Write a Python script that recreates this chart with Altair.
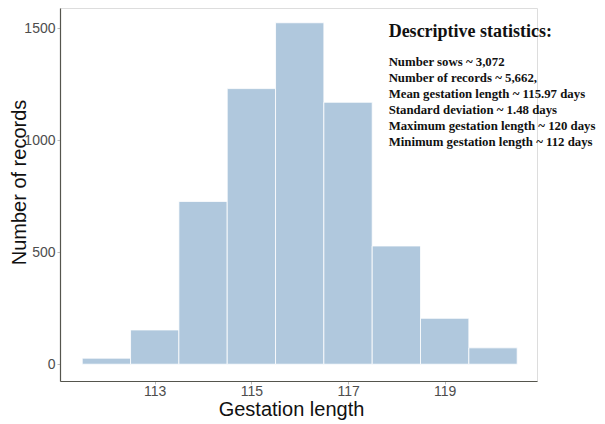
import altair as alt
import pandas as pd

# Histogram data (bin centers, counts)
centers = [112, 113, 114, 115, 116, 117, 118, 119, 120]
counts = [27, 153, 727, 1231, 1525, 1170, 528, 205, 73]

x_ticks = [113, 115, 117, 119]
y_ticks = [0, 500, 1000, 1500]

stats_title = "Descriptive statistics:"
stats_lines = [
    "Number sows ~ 3,072",
    "Number of records ~ 5,662,",
    "Mean gestation length ~ 115.97 days",
    "Standard deviation ~ 1.48 days",
    "Maximum gestation length ~ 120 days",
    "Minimum gestation length ~ 112 days",
]

df = pd.DataFrame({"center": centers, "count": counts})
df["start"] = df["center"] - 0.5
df["end"] = df["center"] + 0.5

xscale = alt.Scale(domain=[111.04, 120.91], nice=False, zero=False)
yscale = alt.Scale(domain=[-75, 1591], nice=False, zero=False)

bars = alt.Chart(df).mark_bar(
    color="#b0c8dd", stroke="white", strokeWidth=0.8
).encode(
    x=alt.X("start:Q", scale=xscale,
            axis=alt.Axis(values=x_ticks, title="Gestation length", grid=False, format="d",
                          labelFontSize=14, labelColor="#4d4d4d", labelFont="Liberation Sans",
                          titleFontSize=20, titleFont="Liberation Sans", titleFontWeight="normal",
                          titleColor="#111", titlePadding=1, labelPadding=0,
                          titleX=231, titleAlign="center",
                          tickSize=3, tickColor="#aaa", tickWidth=0.8,
                          domainColor="#55554d", domainWidth=1.2)),
    x2="end:Q",
    y=alt.Y("count:Q", scale=yscale,
            axis=alt.Axis(values=y_ticks, title="Number of records", grid=False, format="d",
                          labelFontSize=14, labelColor="#4d4d4d", labelFont="Liberation Sans",
                          titleFontSize=20, titleFont="Liberation Sans", titleFontWeight="normal",
                          titleColor="#111", titleBaseline="alphabetic", titleAlign="center",
                          titleX=-35, titleY=174, labelPadding=2,
                          tickSize=3, tickColor="#aaa", tickWidth=0.8,
                          domainColor="#55554d", domainWidth=1.2)),
    y2=alt.datum(0),
)

title_txt = alt.Chart(pd.DataFrame({"t": [stats_title]})).mark_text(
    align="left", baseline="alphabetic", font="Liberation Serif", fontWeight="bold",
    fontSize=18, color="#111"
).encode(x=alt.datum(117.84), y=alt.datum(1461), text="t:N")

lines_txt = alt.Chart(pd.DataFrame({"t": ["\n".join(stats_lines)]})).mark_text(
    align="left", baseline="alphabetic", font="Liberation Serif", fontWeight="bold",
    fontSize=12.8, color="#111", lineBreak="\n", lineHeight=16
).encode(x=alt.datum(117.84), y=alt.datum(1330), text="t:N")

chart = alt.layer(bars, title_txt, lines_txt).properties(
    width=477, height=373,
    autosize=alt.AutoSizeParams(type="none"),
    padding={"left": 52, "top": 0, "right": 60, "bottom": 43},
).configure_view(strokeWidth=0).configure(background="white")

chart.save("out.html", embed_options={"renderer": "svg", "actions": False})
